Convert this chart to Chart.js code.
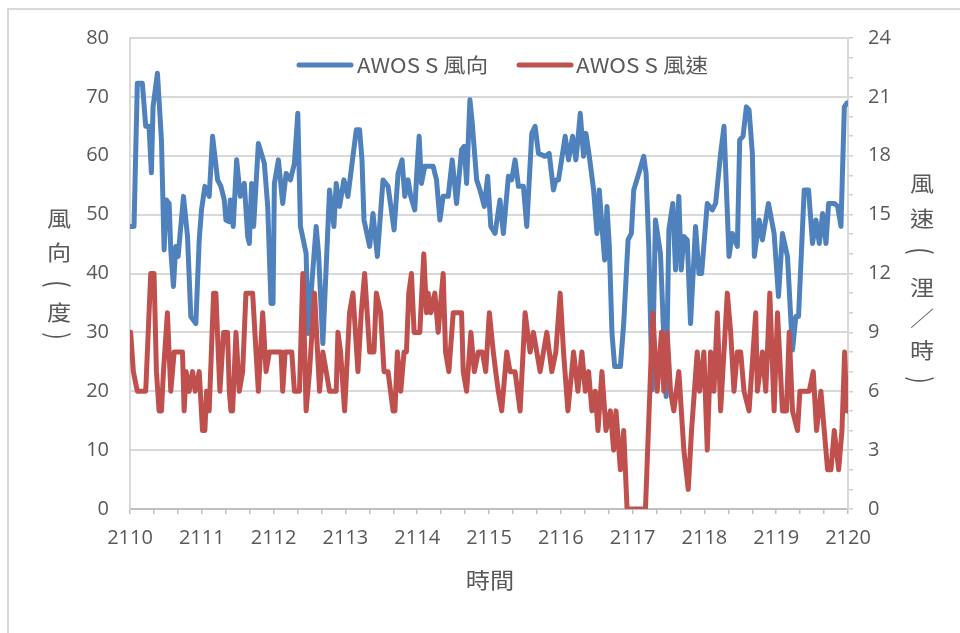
<!DOCTYPE html>
<html>
<head>
<meta charset="utf-8">
<script src="https://cdn.jsdelivr.net/npm/chart.js@4/dist/chart.umd.min.js"></script>
<style>
html,body{margin:0;padding:0;background:#fff;}
#wrap{position:relative;width:960px;height:633px;}
canvas{display:block;}
</style>
</head>
<body>
<div id="wrap"><canvas id="c" width="960" height="633"></canvas></div>
<script>
// x-axis tick labels (time)
const xTickLabels = ['2110','2111','2112','2113','2114','2115','2116','2117','2118','2119','2120'];
const seriesNames = ['AWOS S 風向', 'AWOS S 風速'];
const leftTitle = ['風','向','(','度',')'];
const rightTitle = ['風','速','(','浬','／','時',')'];
const xTitle = '時間';

// time offsets (units after 2110) and wind direction (deg)
const dirTime = [0.009,0.056,0.102,0.172,0.219,0.265,0.298,0.321,0.382,0.438,0.475,0.507,0.545,0.568,0.605,0.638,0.670,0.745,0.801,0.847,0.917,0.964,0.996,1.043,1.103,1.150,
1.220,1.266,1.313,1.336,1.383,1.397,1.438,1.485,1.536,1.592,1.639,1.662,1.694,1.722,1.788,1.871,1.918,1.964,1.992,2.011,2.067,2.127,2.174,2.234,2.290,2.337,2.374,2.453,
2.480,2.593,2.626,2.686,2.779,2.840,2.872,2.919,2.979,3.035,3.105,3.152,3.198,3.231,3.259,3.338,3.384,3.445,3.524,3.594,3.678,3.734,
3.789,3.827,3.873,3.910,3.966,3.994,4.027,4.059,4.106,4.222,4.269,4.316,4.362,4.432,4.488,4.548,4.618,4.655,4.688,4.734,4.767,4.828,4.874,4.935,4.981,5.025,
5.084,5.153,5.200,5.270,5.316,5.363,5.410,5.479,5.526,5.596,5.642,5.689,5.782,5.838,5.898,5.931,5.968,6.061,6.108,6.164,6.210,6.238,6.271,
6.317,6.350,6.397,6.457,6.504,6.536,6.573,6.611,6.643,6.676,6.713,6.750,6.830,6.876,6.937,6.983,7.016,7.086,7.155,7.188,7.225,7.272,7.318,7.388,7.467,
7.505,7.560,7.598,7.644,7.677,7.714,7.761,7.807,7.877,7.924,7.961,8.040,8.110,8.156,8.226,8.273,8.343,8.389,8.459,8.492,8.538,8.585,8.622,8.668,8.696,8.762,
8.808,8.892,8.971,9.032,9.087,9.157,9.227,9.274,9.311,9.390,9.451,9.506,9.553,9.600,9.646,9.693,9.730,9.809,9.856,9.902,9.949,9.982,10.0];
const dirValue = [48.0,48.0,72.3,72.3,65.0,65.0,57.1,68.3,74.0,62.7,44.0,52.5,51.9,44.0,37.8,44.6,42.9,53.1,46.3,32.7,31.5,45.7,50.8,54.8,53.1,63.3,
55.9,54.8,52.5,49.1,48.8,52.5,48.0,59.3,53.1,55.3,46.3,45.1,55.3,48.0,62.1,58.7,51.4,34.9,34.9,55.3,59.3,51.9,57.0,55.9,58.7,67.2,48.0,43.4,
29.8,48.0,43.4,28.1,54.2,48.0,55.3,51.4,55.9,53.1,59.9,64.4,64.4,59.3,49.1,44.6,50.2,42.9,55.9,54.8,47.4,57.0,
59.3,53.1,55.9,53.1,50.8,57.0,63.3,55.3,58.2,58.2,55.9,49.1,53.1,53.1,59.3,51.9,61.0,61.6,55.3,69.5,65.5,55.9,54.2,51.4,56.5,48.0,
46.8,52.5,46.8,56.5,55.9,59.3,54.8,54.8,48.0,63.8,65.0,60.4,59.9,60.4,54.2,55.9,55.9,63.3,59.3,63.3,59.3,62.7,67.2,
59.9,63.8,59.9,54.2,46.8,54.2,48.0,42.3,51.4,44.6,29.8,24.2,24.2,31.5,45.7,46.8,54.2,57.0,59.9,57.0,44.6,20.2,49.1,43.4,19.1,
47.4,51.9,40.6,53.1,40.6,46.3,45.7,31.5,48.0,40.0,40.0,51.9,50.8,51.9,60.4,65.0,42.9,46.8,44.6,62.7,63.3,68.3,67.8,60.4,42.9,49.1,
45.7,51.9,46.8,36.1,46.8,42.9,27.0,32.7,32.7,54.2,54.2,45.1,49.1,45.1,50.2,45.1,51.9,51.9,51.4,48.0,68.3,68.9,69.0];

// time offsets and wind speed (knots)
const spdTime = [0.009,0.047,0.102,0.219,0.242,0.289,0.335,0.368,0.405,0.438,0.466,0.521,0.568,0.615,0.731,0.754,0.782,0.824,0.871,0.908,0.964,1.010,1.043,1.066,1.103,1.164,
1.196,1.229,1.252,1.303,1.359,1.383,1.406,1.429,1.476,1.522,1.569,1.615,1.708,1.755,1.788,1.848,1.895,1.941,2.104,2.127,2.160,2.253,2.290,2.360,2.407,2.453,2.500,
2.570,2.640,2.686,2.733,2.779,2.872,2.896,2.933,2.989,3.058,3.105,3.175,3.221,3.268,3.338,3.398,3.431,3.491,3.538,3.594,3.664,3.690,
3.724,3.771,3.817,3.850,3.883,3.920,3.957,4.036,4.092,4.129,4.153,4.190,4.246,4.292,4.362,4.395,4.441,4.502,4.618,4.641,4.688,4.748,4.795,4.851,4.907,4.954,5.005,
5.060,5.093,5.130,5.177,5.247,5.293,5.363,5.433,5.503,5.572,5.619,5.712,5.805,5.875,5.931,5.991,6.038,6.099,6.178,6.238,6.294,
6.341,6.387,6.434,6.480,6.518,6.573,6.629,6.690,6.736,6.769,6.830,6.876,6.923,7.179,7.281,7.342,7.402,7.435,7.481,7.528,
7.574,7.644,7.714,7.775,7.821,7.900,7.933,7.993,8.040,8.086,8.133,8.180,8.226,8.319,8.366,8.412,8.459,8.505,8.552,8.622,8.715,
8.738,8.808,8.855,8.911,8.971,9.018,9.087,9.143,9.181,9.227,9.297,9.330,9.460,9.516,9.562,9.623,9.669,9.716,9.763,9.809,9.870,9.916,9.953,9.982,10.0];
const spdValue = [9,7,6,6,8,12,12,7,5,5,7,10,6,8,8,5,7,6,7,6,7,4,4,6,5,11,
11,8,6,9,9,6,5,5,9,6,7,11,11,8,6,10,7,8,8,6,8,8,6,6,12,5,7,
11,6,8,7,6,6,9,8,5,10,11,7,10,12,8,8,11,10,7,7,5,5,
8,6,8,8,11,12,9,9,13,10,11,10,11,9,12,8,7,10,10,7,6,9,7,8,8,7,10,
8,7,6,5,8,7,7,5,10,8,9,7,9,7,8,11,8,5,8,6,8,
6,7,5,6,4,7,4,5,3,5,2,4,0,0,10,6,9,6,9,6,
5,7,3,1,4,8,6,8,3,8,6,10,5,11,9,6,8,8,6,5,10,
6,8,6,11,5,10,5,5,9,5,4,6,6,7,4,6,4,2,2,4,2,4,8,5,5];

const dirData = dirTime.map((t, i) => ({x: t, y: dirValue[i]}));
const spdData = spdTime.map((t, i) => ({x: t, y: spdValue[i]}));

const TXT = '#595959';
const NUMFONT = "'Open Sans', 'Liberation Sans', sans-serif";
const CJK = "'Noto Sans CJK TC', 'Noto Sans CJK SC', sans-serif";

function drawScaledText(ctx, text, x, y, font, targetW, align) {
  ctx.save();
  ctx.font = font;
  const w = ctx.measureText(text).width;
  const sx = targetW ? targetW / w : 1;
  ctx.translate(x, y);
  ctx.scale(sx, 1);
  ctx.textAlign = align || 'left';
  ctx.textBaseline = 'middle';
  ctx.fillText(text, 0, 0);
  ctx.restore();
}

function drawStacked(ctx, chars, cx, ys) {
  chars.forEach((ch, i) => {
    ctx.save();
    ctx.translate(cx, ys[i]);
    ctx.textAlign = 'center';
    ctx.textBaseline = 'middle';
    if (ch === '(' || ch === ')') {
      ctx.font = '22px ' + CJK;
      ctx.rotate(Math.PI / 2);
      ctx.scale(1, 1.3);
    } else {
      ctx.font = '21px ' + CJK;
      ctx.scale(1.15, 1);
    }
    ctx.fillText(ch, 0, 0);
    ctx.restore();
  });
}

const decor = {
  id: 'decor',
  beforeDraw(chart) {
    const ctx = chart.ctx;
    ctx.save();
    ctx.fillStyle = '#fff';
    ctx.fillRect(0, 0, chart.width, chart.height);
    ctx.strokeStyle = '#d9d9d9';
    ctx.lineWidth = 2;
    ctx.beginPath();
    ctx.moveTo(8, 640); ctx.lineTo(8, 9); ctx.lineTo(970, 9);
    ctx.stroke();
    ctx.restore();
  },
  afterDraw(chart) {
    const ctx = chart.ctx;
    ctx.save();
    ctx.fillStyle = TXT;
    drawStacked(ctx, leftTitle, 59, [218, 252, 284, 312, 336]);
    drawStacked(ctx, rightTitle, 922, [183, 218, 251, 287, 318, 350, 380]);
    // x title
    ctx.save();
    ctx.font = '22px ' + CJK;
    ctx.translate(490, 580);
    ctx.scale(1.1, 1);
    ctx.textAlign = 'center';
    ctx.textBaseline = 'middle';
    ctx.fillText(xTitle, 0, 0);
    ctx.restore();
    // legend
    const items = [
      {c: '#4F81BD', x1: 299, x2: 351, tx: 357, tw: 131, name: seriesNames[0]},
      {c: '#C0504D', x1: 519, x2: 571, tx: 576, tw: 132, name: seriesNames[1]}
    ];
    items.forEach(it => {
      ctx.strokeStyle = it.c;
      ctx.lineWidth = 5;
      ctx.lineCap = 'round';
      ctx.beginPath();
      ctx.moveTo(it.x1, 65); ctx.lineTo(it.x2, 65);
      ctx.stroke();
      ctx.fillStyle = TXT;
      drawScaledText(ctx, it.name, it.tx, 65, '20px ' + CJK, it.tw, 'left');
    });
    ctx.restore();
  }
};

new Chart(document.getElementById('c'), {
  type: 'line',
  data: {
    datasets: [
      {label: seriesNames[0], data: dirData, yAxisID: 'y', borderColor: '#4F81BD', backgroundColor: '#4F81BD',
       borderWidth: 5, pointRadius: 0, tension: 0, borderJoinStyle: 'round', borderCapStyle: 'round', order: 1},
      {label: seriesNames[1], data: spdData, yAxisID: 'y1', borderColor: '#C0504D', backgroundColor: '#C0504D',
       borderWidth: 5, pointRadius: 0, tension: 0, borderJoinStyle: 'round', borderCapStyle: 'round', order: 0}
    ]
  },
  options: {
    responsive: false,
    animation: false,
    events: [],
    layout: {padding: {top: 38, left: 0, right: 0, bottom: 0}},
    plugins: {legend: {display: false}, tooltip: {enabled: false}, title: {display: false}},
    scales: {
      x: {
        type: 'linear', min: 0, max: 10,
        afterFit(s) { s.height = 124; },
        afterBuildTicks(s) { s.ticks = Array.from({length: 31}, (_, k) => ({value: k / 3})); },
        ticks: {
          autoSkip: false, maxRotation: 0, padding: 12, color: TXT,
          font: {family: NUMFONT, size: 20},
          callback(v) { const r = Math.round(v); return Math.abs(v - r) < 1e-6 ? xTickLabels[r] : ''; }
        },
        grid: {drawOnChartArea: false, drawTicks: true, tickLength: 5, color: '#bfbfbf', lineWidth: 1.5},
        border: {display: true, color: '#bfbfbf', width: 2}
      },
      y: {
        position: 'left', min: 0, max: 80,
        afterFit(s) { s.width = 130; },
        ticks: {stepSize: 10, padding: 21, color: TXT, font: {family: NUMFONT, size: 20}},
        grid: {color: '#d9d9d9', lineWidth: 2, drawTicks: false},
        border: {display: true, color: '#d9d9d9', width: 2}
      },
      y1: {
        position: 'right', min: 0, max: 24,
        afterFit(s) { s.width = 112; },
        afterBuildTicks(s) { s.ticks = Array.from({length: 25}, (_, k) => ({value: k})); },
        ticks: {
          autoSkip: false, padding: 15, color: TXT, font: {family: NUMFONT, size: 20},
          callback(v) { return v % 3 === 0 ? String(v) : ''; }
        },
        grid: {drawOnChartArea: false, drawTicks: true, tickLength: 5, color: '#d0d0d0', lineWidth: 1.5},
        border: {display: true, color: '#d9d9d9', width: 2}
      }
    }
  },
  plugins: [decor]
});
</script>
</body>
</html>
